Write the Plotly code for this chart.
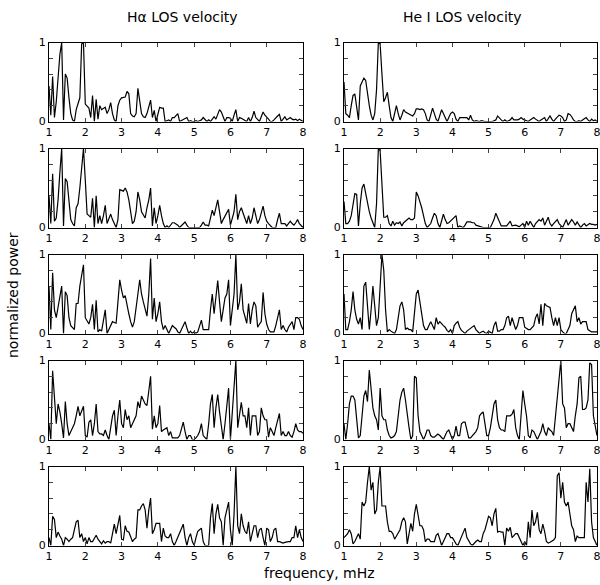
import numpy as np
import plotly.graph_objects as go
from plotly.subplots import make_subplots

# frequency grid, mHz (1.00 ... 8.00, step 0.05)
freq = np.round(1.0 + 0.05 * np.arange(141), 2)

ha_1 = [0.45,0.08,0.57,0.05,0.25,0.6,0.85,1.0,0.02,0.6,0.55,0.3,0.1,0.02,0.0,0.15,0.22,0.3,0.98,1.0,
        0.22,0.2,0.17,0.05,0.33,0.0,0.28,0.03,0.2,0.15,0.17,0.18,0.1,0.15,0.24,0.1,0.02,0.0,0.2,0.27,
        0.3,0.31,0.31,0.38,0.35,0.1,0.07,0.06,0.1,0.42,0.25,0.1,0.06,0.05,0.1,0.18,0.27,0.05,0.14,0.0,
        0.1,0.18,0.17,0.17,0.0,0.01,0.02,0.0,0.05,0.05,0.08,0.1,0.0,0.01,0.02,0.03,0.05,0.0,0.01,0.0,
        0.0,0.01,0.0,0.01,0.02,0.05,0.03,0.0,0.02,0.0,0.03,0.06,0.03,0.1,0.15,0.12,0.05,0.0,0.05,0.05,
        0.04,0.0,0.08,0.15,0.0,0.05,0.04,0.03,0.01,0.0,0.05,0.0,0.05,0.13,0.05,0.02,0.0,0.06,0.12,0.08,
        0.06,0.03,0.0,0.0,0.02,0.05,0.07,0.09,0.0,0.03,0.06,0.02,0.03,0.05,0.03,0.02,0.03,0.01,0.03,0.01,
        0.0]
he_1 = [0.5,0.1,0.08,0.05,0.2,0.33,0.35,0.15,0.02,0.45,0.5,0.55,0.52,0.35,0.2,0.08,0.02,0.1,0.4,1.0,
        0.98,0.6,0.25,0.3,0.37,0.2,0.05,0.0,0.1,0.2,0.1,0.02,0.08,0.15,0.12,0.11,0.1,0.08,0.07,0.1,
        0.16,0.16,0.15,0.16,0.15,0.1,0.02,0.0,0.1,0.17,0.1,0.03,0.0,0.08,0.15,0.1,0.05,0.0,0.05,0.1,
        0.12,0.1,0.03,0.0,0.05,0.05,0.05,0.05,0.05,0.02,0.08,0.02,0.0,0.01,0.0,0.0,0.01,0.0,0.0,0.0,
        0.0,0.0,0.0,0.01,0.02,0.07,0.04,0.02,0.0,0.02,0.0,0.01,0.02,0.05,0.02,0.02,0.02,0.03,0.05,0.03,
        0.02,0.0,0.0,0.02,0.03,0.05,0.03,0.02,0.0,0.02,0.03,0.05,0.0,0.03,0.07,0.03,0.0,0.03,0.05,0.08,
        0.07,0.05,0.0,0.02,0.1,0.09,0.06,0.02,0.0,0.0,0.01,0.0,0.02,0.03,0.05,0.02,0.0,0.03,0.01,0.02,
        0.0]
ha_2 = [0.4,0.05,0.68,0.08,0.12,0.35,0.7,1.0,0.02,0.62,0.58,0.3,0.1,0.05,0.02,0.25,0.3,0.5,0.8,1.0,
        0.6,0.17,0.15,0.13,0.37,0.0,0.4,0.05,0.15,0.05,0.15,0.28,0.05,0.1,0.17,0.1,0.05,0.0,0.1,0.48,
        0.47,0.46,0.5,0.45,0.35,0.2,0.05,0.08,0.2,0.45,0.35,0.2,0.15,0.12,0.25,0.35,0.5,0.02,0.25,0.05,
        0.15,0.28,0.15,0.05,0.0,0.02,0.0,0.03,0.06,0.06,0.05,0.03,0.0,0.02,0.05,0.07,0.03,0.0,0.0,0.0,
        0.0,0.0,0.0,0.0,0.03,0.07,0.03,0.03,0.02,0.12,0.22,0.15,0.25,0.35,0.2,0.05,0.1,0.15,0.2,0.23,
        0.03,0.12,0.2,0.42,0.1,0.2,0.25,0.18,0.1,0.05,0.15,0.05,0.12,0.25,0.15,0.05,0.1,0.2,0.27,0.15,
        0.08,0.05,0.02,0.0,0.0,0.0,0.1,0.18,0.05,0.05,0.05,0.02,0.05,0.08,0.05,0.03,0.06,0.1,0.05,0.03,
        0.0]
he_2 = [0.33,0.05,0.05,0.08,0.15,0.3,0.43,0.42,0.02,0.3,0.5,0.55,0.42,0.3,0.2,0.12,0.05,0.0,0.3,1.0,
        0.97,0.45,0.13,0.13,0.15,0.05,0.02,0.08,0.03,0.06,0.05,0.07,0.02,0.06,0.08,0.1,0.12,0.1,0.1,0.12,
        0.45,0.4,0.33,0.25,0.15,0.05,0.0,0.03,0.05,0.12,0.18,0.15,0.05,0.0,0.1,0.17,0.1,0.05,0.06,0.08,
        0.1,0.12,0.15,0.0,0.02,0.01,0.0,0.03,0.07,0.07,0.07,0.06,0.06,0.03,0.02,0.02,0.0,0.0,0.0,0.0,
        0.0,0.0,0.05,0.1,0.18,0.12,0.06,0.02,0.02,0.02,0.02,0.05,0.08,0.02,0.03,0.03,0.02,0.01,0.03,0.05,
        0.0,0.08,0.03,0.08,0.04,0.0,0.05,0.08,0.1,0.08,0.12,0.03,0.08,0.13,0.05,0.02,0.05,0.08,0.1,0.05,
        0.02,0.0,0.05,0.1,0.03,0.06,0.1,0.07,0.03,0.07,0.03,0.0,0.03,0.05,0.02,0.03,0.05,0.04,0.04,0.03,
        0.04]
ha_3 = [0.6,0.05,0.77,0.3,0.2,0.35,0.5,0.6,0.0,0.53,0.48,0.2,0.1,0.07,0.05,0.38,0.38,0.6,0.75,0.87,
        0.2,0.15,0.12,0.2,0.37,0.05,0.42,0.02,0.05,0.03,0.15,0.3,0.0,0.05,0.1,0.15,0.14,0.13,0.4,0.68,
        0.55,0.45,0.48,0.35,0.25,0.15,0.08,0.15,0.3,0.5,0.68,0.5,0.4,0.3,0.22,0.5,0.95,0.18,0.45,0.15,
        0.25,0.4,0.15,0.05,0.1,0.05,0.0,0.05,0.1,0.08,0.06,0.02,0.0,0.05,0.1,0.15,0.07,0.0,0.03,0.0,
        0.02,0.0,0.02,0.1,0.17,0.05,0.05,0.05,0.05,0.3,0.5,0.25,0.45,0.67,0.4,0.15,0.3,0.45,0.5,0.68,
        0.1,0.3,0.5,1.0,0.3,0.4,0.63,0.3,0.2,0.13,0.38,0.12,0.3,0.4,0.35,0.08,0.12,0.15,0.52,0.25,
        0.12,0.05,0.02,0.02,0.02,0.1,0.2,0.3,0.05,0.1,0.05,0.02,0.08,0.12,0.15,0.05,0.2,0.2,0.18,0.1,
        0.05]
he_3 = [0.5,0.05,0.05,0.15,0.3,0.53,0.3,0.18,0.12,0.2,0.05,0.6,0.65,0.4,0.05,0.3,0.6,0.35,0.1,0.2,
        0.6,1.0,0.8,0.3,0.02,0.05,0.03,0.02,0.0,0.05,0.2,0.35,0.4,0.3,0.05,0.07,0.05,0.05,0.02,0.3,
        0.5,0.55,0.4,0.2,0.1,0.05,0.05,0.1,0.15,0.1,0.05,0.2,0.12,0.15,0.12,0.1,0.08,0.04,0.02,0.05,
        0.0,0.1,0.13,0.15,0.08,0.04,0.02,0.0,0.03,0.05,0.07,0.09,0.1,0.05,0.02,0.0,0.02,0.03,0.01,0.0,
        0.03,0.02,0.0,0.1,0.15,0.03,0.03,0.05,0.05,0.1,0.2,0.22,0.1,0.2,0.12,0.05,0.1,0.2,0.2,0.2,
        0.08,0.06,0.05,0.05,0.08,0.1,0.2,0.25,0.12,0.37,0.1,0.38,0.35,0.34,0.33,0.2,0.1,0.2,0.1,0.2,
        0.05,0.02,0.0,0.0,0.05,0.1,0.25,0.3,0.35,0.15,0.2,0.12,0.15,0.15,0.15,0.05,0.03,0.02,0.02,0.02,
        0.02]
ha_4 = [0.2,0.0,0.87,0.5,0.2,0.45,0.35,0.2,0.02,0.48,0.2,0.05,0.1,0.15,0.2,0.3,0.42,0.3,0.35,0.42,
        0.05,0.03,0.22,0.25,0.05,0.2,0.45,0.1,0.07,0.07,0.05,0.12,0.05,0.0,0.15,0.3,0.37,0.05,0.3,0.5,
        0.2,0.15,0.38,0.25,0.3,0.15,0.2,0.25,0.3,0.48,0.4,0.55,0.5,0.45,0.43,0.6,0.8,0.13,0.3,0.15,
        0.2,0.43,0.1,0.12,0.13,0.15,0.05,0.1,0.02,0.02,0.02,0.02,0.05,0.12,0.22,0.1,0.0,0.05,0.05,0.0,
        0.0,0.02,0.05,0.1,0.2,0.05,0.02,0.0,0.2,0.45,0.57,0.15,0.4,0.57,0.35,0.15,0.0,0.2,0.4,0.65,
        0.0,0.3,0.6,1.0,0.15,0.3,0.47,0.3,0.3,0.15,0.4,0.05,0.3,0.3,0.3,0.05,0.1,0.4,0.3,0.25,
        0.25,0.03,0.15,0.1,0.05,0.15,0.25,0.33,0.05,0.1,0.05,0.05,0.1,0.05,0.03,0.1,0.2,0.12,0.1,0.1,
        0.08]
he_4 = [0.2,0.0,0.2,0.45,0.55,0.55,0.5,0.2,0.02,0.05,0.3,0.55,0.62,0.48,0.88,0.6,0.4,0.3,0.25,0.12,
        0.65,0.3,0.25,0.25,0.12,0.05,0.02,0.03,0.05,0.1,0.3,0.5,0.6,0.65,0.5,0.3,0.15,0.0,0.05,0.8,
        0.78,0.3,0.1,0.05,0.0,0.05,0.12,0.12,0.05,0.03,0.03,0.05,0.07,0.05,0.02,0.0,0.05,0.1,0.12,0.05,
        0.0,0.05,0.17,0.05,0.05,0.2,0.22,0.22,0.1,0.02,0.02,0.05,0.07,0.1,0.15,0.3,0.33,0.35,0.2,0.05,
        0.05,0.15,0.3,0.45,0.5,0.25,0.15,0.12,0.12,0.1,0.3,0.3,0.3,0.32,0.38,0.15,0.05,0.0,0.3,0.62,
        0.45,0.3,0.05,0.02,0.12,0.1,0.05,0.0,0.05,0.1,0.2,0.1,0.05,0.15,0.12,0.1,0.05,0.3,0.5,0.75,
        1.0,0.45,0.4,0.15,0.2,0.2,0.15,0.1,0.3,0.45,0.78,0.8,0.38,0.38,0.4,0.5,0.97,0.95,0.3,0.15,
        0.05]
ha_5 = [0.1,0.0,0.37,0.33,0.1,0.17,0.12,0.08,0.0,0.1,0.08,0.05,0.08,0.1,0.2,0.3,0.32,0.1,0.15,0.05,
        0.1,0.02,0.1,0.05,0.05,0.1,0.13,0.08,0.05,0.02,0.06,0.03,0.05,0.05,0.03,0.15,0.27,0.15,0.25,0.38,
        0.08,0.07,0.25,0.18,0.17,0.1,0.05,0.08,0.1,0.45,0.45,0.5,0.53,0.45,0.22,0.45,0.6,0.15,0.2,0.28,
        0.28,0.28,0.05,0.22,0.12,0.1,0.1,0.15,0.05,0.0,0.05,0.1,0.15,0.2,0.27,0.1,0.0,0.1,0.15,0.05,
        0.0,0.1,0.18,0.2,0.22,0.05,0.0,0.0,0.0,0.35,0.53,0.15,0.4,0.52,0.35,0.3,0.0,0.35,0.45,0.55,
        0.2,0.0,0.4,1.0,0.25,0.15,0.4,0.25,0.18,0.15,0.3,0.05,0.15,0.25,0.25,0.1,0.2,0.22,0.1,0.0,
        0.22,0.2,0.05,0.1,0.2,0.22,0.05,0.05,0.04,0.03,0.04,0.05,0.05,0.05,0.1,0.1,0.25,0.1,0.2,0.1,
        0.05]
he_5 = [0.1,0.12,0.15,0.2,0.15,0.02,0.05,0.1,0.15,0.08,0.55,0.5,0.55,0.8,1.0,0.7,0.8,0.4,0.45,0.8,
        1.0,0.5,0.5,0.5,0.3,0.18,0.18,0.15,0.08,0.12,0.15,0.2,0.3,0.35,0.3,0.02,0.15,0.28,0.18,0.4,
        0.52,0.4,0.25,0.25,0.2,0.05,0.08,0.08,0.05,0.05,0.05,0.13,0.15,0.08,0.0,0.05,0.1,0.15,0.15,0.1,
        0.1,0.05,0.02,0.0,0.05,0.1,0.15,0.22,0.1,0.05,0.02,0.0,0.03,0.05,0.07,0.05,0.05,0.15,0.2,0.3,
        0.37,0.35,0.25,0.4,0.47,0.17,0.18,0.17,0.17,0.0,0.22,0.18,0.23,0.1,0.12,0.15,0.15,0.1,0.05,0.0,
        0.05,0.0,0.3,0.1,0.45,0.25,0.3,0.42,0.2,0.15,0.27,0.18,0.05,0.03,0.04,0.05,0.07,0.1,0.88,0.92,
        0.6,0.8,0.55,0.5,0.55,0.4,0.25,0.2,0.05,0.12,0.1,0.1,0.1,0.1,0.8,0.55,0.97,0.3,0.1,0.05,
        0.0]

ha_series = [ha_1, ha_2, ha_3, ha_4, ha_5]
he_series = [he_1, he_2, he_3, he_4, he_5]
col_titles = ["H\u03b1 LOS velocity", "He I LOS velocity"]
x_ticks = [1, 2, 3, 4, 5, 6, 7, 8]
y_ticks = [0, 0.2, 0.4, 0.6, 0.8, 1]
y_ticktext = ["0", "", "", "", "", "1"]

W, H = 600, 585
FONT = "DejaVu Sans"


def px_x(p):
    return p / W


def px_y(p):
    return 1 - p / H


fig = make_subplots(rows=5, cols=2)

col_px = [(49, 303), (344, 597)]
row_top = [42.5, 148.5, 254.5, 360.5, 466.5]
row_h = 79

for r in range(5):
    for c, series in enumerate([ha_series, he_series]):
        fig.add_trace(go.Scatter(x=freq, y=series[r], mode="lines",
                                 line=dict(color="black", width=1.2),
                                 showlegend=False, hoverinfo="skip"),
                      row=r + 1, col=c + 1)
        idx = r * 2 + c + 1
        xa = "xaxis" if idx == 1 else f"xaxis{idx}"
        ya = "yaxis" if idx == 1 else f"yaxis{idx}"
        x0, x1 = col_px[c]
        top = row_top[r]
        fig.layout[xa].update(domain=[px_x(x0), px_x(x1)], range=[1, 8], automargin=False,
                              tickvals=x_ticks, ticks="inside", ticklen=4,
                              ticklabeloverflow="allow",
                              showline=True, mirror="allticks", linecolor="black",
                              linewidth=1, showgrid=False, zeroline=False,
                              tickfont=dict(family=FONT, size=11, color="black"))
        fig.layout[ya].update(domain=[px_y(top + row_h), px_y(top)], range=[0, 1],
                              automargin=False,
                              tickvals=y_ticks, ticktext=y_ticktext, ticks="inside",
                              ticklen=4, showline=True, mirror="allticks",
                              linecolor="black", linewidth=1, showgrid=False,
                              zeroline=False,
                              tickfont=dict(family=FONT, size=11, color="black"))

annots = [
    dict(text=col_titles[0], x=px_x(182), y=px_y(17)),
    dict(text=col_titles[1], x=px_x(463), y=px_y(17)),
    dict(text="frequency, mHz", x=px_x(319), y=px_y(573)),
    dict(text="normalized power", x=px_x(13), y=px_y(295), textangle=-90),
]
for a in annots:
    fig.add_annotation(xref="paper", yref="paper", showarrow=False,
                       xanchor="center", yanchor="middle",
                       font=dict(family=FONT, size=14, color="black"), **a)

fig.update_layout(width=W, height=H, margin=dict(l=0, r=0, t=0, b=0, autoexpand=False),
                  paper_bgcolor="white", plot_bgcolor="white")

# remove the default page margin and scrollbars so the figure fills the window exactly
fig.write_html("out.html",
               config={"displayModeBar": False},
               post_script="document.body.style.margin='0';"
                           "document.body.style.overflow='hidden';"
                           "document.documentElement.style.overflow='hidden';")
